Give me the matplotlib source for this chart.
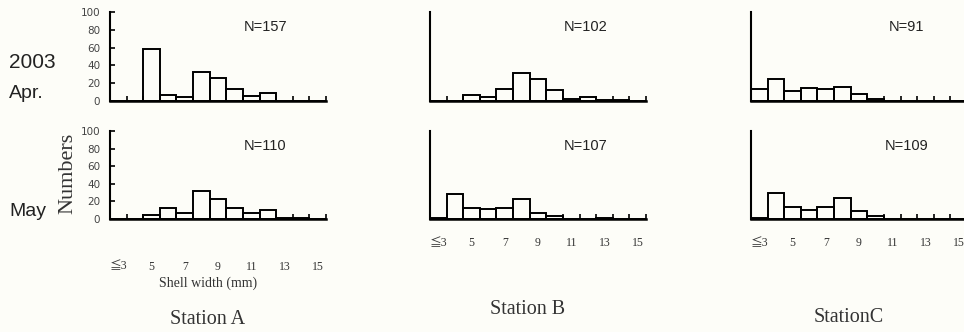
import numpy as np
import matplotlib.pyplot as plt

# shell width classes (mm); first class is "3 mm or less"
width_classes = ['≦3', '4', '5', '6', '7', '8', '9', '10', '11', '12', '13', '14', '15']
tick_labels = ['≦3', '5', '7', '9', '11', '13', '15']

# counts per width class, 2003
station_a_apr = [0, 0, 58, 7, 4, 33, 26, 14, 6, 9, 0, 0, 0]
station_a_may = [0, 0, 5, 12, 7, 32, 23, 12, 7, 10, 1, 1, 0]
station_b_apr = [0, 0, 7, 5, 13, 32, 25, 12, 2, 4, 1, 1, 0]
station_b_may = [1, 28, 13, 11, 13, 23, 7, 3, 0, 0, 1, 0, 0]
station_c_apr = [13, 25, 11, 15, 14, 16, 8, 2, 0, 0, 0, 0, 0]
station_c_may = [1, 30, 14, 10, 14, 24, 9, 3, 0, 0, 0, 0, 0]

n_apr = [157, 102, 91]
n_may = [110, 107, 109]
stations = ['Station A', 'Station B', 'StationC']

W, H = 964, 332
BG = '#fdfdf8'
fig = plt.figure(figsize=(W / 100, H / 100), dpi=100, facecolor=BG)

SERIF = ['Liberation Serif', 'Noto Sans CJK JP']
SANS = ['Liberation Sans', 'DejaVu Sans']


def px_axes(x0, x1, ytop, ybot):
    return fig.add_axes([x0 / W, 1 - ybot / H, (x1 - x0) / W, (ybot - ytop) / H])


def histo(ax, counts, n, show_y=False, xlabels=False):
    x = np.arange(len(counts))
    ax.bar(x, counts, width=1.0, fill=False, edgecolor='black', linewidth=1.4)
    ax.set_xlim(-0.5, len(counts) - 0.5)
    ax.set_ylim(0, 100)
    ax.set_facecolor('none')
    for s in ['top', 'right']:
        ax.spines[s].set_visible(False)
    ax.spines['bottom'].set_linewidth(1.8)
    ax.spines['left'].set_linewidth(1.5)
    # small upward ticks on every class boundary
    ax.set_xticks(x + 0.5)
    ax.tick_params(axis='x', which='major', direction='in', length=3.5,
                   width=1.2, labelbottom=False)
    if xlabels:
        ax.set_xticks(x[::2], minor=True)
        ax.set_xticklabels(tick_labels, minor=True, family=SERIF, fontsize=8.5,
                           color='#333333')
        ax.tick_params(axis='x', which='minor', length=0, pad=13)
    if show_y:
        ax.set_yticks(np.arange(0, 101, 20))
        ax.tick_params(axis='y', direction='in', length=3.5, width=1.2, pad=7,
                       labelsize=7.5, labelcolor='#444444')
    else:
        ax.set_yticks([])
    ax.text(0.72, 0.83, 'N=%d' % n, transform=ax.transAxes, ha='center',
            va='center', fontsize=10.5, family=SANS, color='#222222')
    return ax


cols = [(110, 326), (430, 646), (751, 967)]
apr = [station_a_apr, station_b_apr, station_c_apr]
may = [station_a_may, station_b_may, station_c_may]

for i, (x0, x1) in enumerate(cols):
    histo(px_axes(x0, x1, 12, 101), apr[i], n_apr[i], show_y=(i == 0))
    ax = histo(px_axes(x0, x1, 131, 219), may[i], n_may[i], show_y=(i == 0),
               xlabels=True)
    if i == 0:
        ax.tick_params(axis='x', which='minor', pad=30)

# row and axis titles
fig.text(9 / W, 1 - 63 / H, '2003', fontsize=15, family=SANS, va='center',
         color='#222222')
fig.text(9 / W, 1 - 94 / H, 'Apr.', fontsize=14, family=SANS, va='center',
         color='#222222')
fig.text(9 / W, 1 - 211 / H, 'May', fontsize=14, family=SANS, va='center',
         color='#222222')
fig.text(68 / W, 1 - 173 / H, 'Numbers', fontsize=16, family=SERIF,
         rotation=90, ha='center', va='center', color='#333333')
fig.text(208 / W, 1 - 283 / H, 'Shell width (mm)', fontsize=10,
         family=SERIF, ha='center', va='center', color='#333333')

for (x0, x1), name, yy in zip(cols, stations, [320, 310, 318]):
    fig.text((x0 + 98) / W, 1 - yy / H, name, fontsize=14.5, family=SERIF,
             ha='center', va='center', color='#333333')

fig.savefig('out.png', dpi=100, facecolor=BG)
